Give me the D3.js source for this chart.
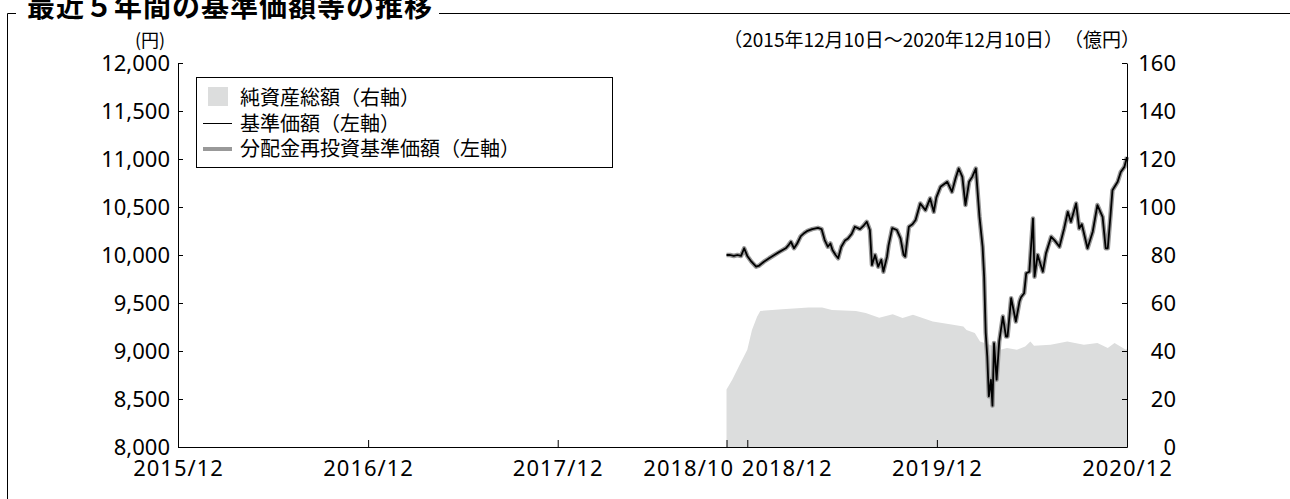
<!DOCTYPE html>
<html>
<head>
<meta charset="utf-8">
<script src="https://cdn.jsdelivr.net/npm/d3@7"></script>
<style>
  body { margin: 0; background: #fff; }
  svg { display: block; font-family: "Noto Sans CJK JP", "Noto Sans", sans-serif; }
</style>
</head>
<body>
<svg id="chart" width="1290" height="499"></svg>
<script>
const startDate = "2015-12-10", endDate = "2020-12-10";
const xTickDates = ["2015-12-10", "2016-12-10", "2017-12-10", "2018-10-31", "2018-12-10", "2019-12-10", "2020-12-10"];
const xTickLabels = ["2015/12", "2016/12", "2017/12", "2018/10", "2018/12", "2019/12", "2020/12"];
const leftTicks = [8000, 8500, 9000, 9500, 10000, 10500, 11000, 11500, 12000];
const rightTicks = [0, 20, 40, 60, 80, 100, 120, 140, 160];

// 基準価額 (円)
const priceDates = [
  "2018-10-31", "2018-11-07", "2018-11-14", "2018-11-21", "2018-11-28", "2018-12-04", "2018-12-10", "2018-12-18",
  "2018-12-27", "2019-01-02", "2019-01-11", "2019-01-21", "2019-01-31", "2019-02-09", "2019-02-22", "2019-02-27",
  "2019-03-04", "2019-03-10", "2019-03-16", "2019-03-23", "2019-03-30", "2019-04-05", "2019-04-14", "2019-04-25",
  "2019-05-02", "2019-05-08", "2019-05-14", "2019-05-19", "2019-05-23", "2019-05-29", "2019-06-03", "2019-06-09",
  "2019-06-16", "2019-06-22", "2019-06-29", "2019-07-05", "2019-07-15", "2019-07-21", "2019-07-28", "2019-08-03",
  "2019-08-07", "2019-08-13", "2019-08-19", "2019-08-25", "2019-08-29", "2019-09-05", "2019-09-08", "2019-09-15",
  "2019-09-24", "2019-10-01", "2019-10-07", "2019-10-10", "2019-10-17", "2019-10-24", "2019-10-30", "2019-11-08",
  "2019-11-18", "2019-11-27", "2019-12-04", "2019-12-09", "2019-12-17", "2019-12-30", "2020-01-08", "2020-01-15",
  "2020-01-21", "2020-01-28", "2020-02-03", "2020-02-10", "2020-02-16", "2020-02-23", "2020-03-01", "2020-03-07",
  "2020-03-10", "2020-03-13", "2020-03-16", "2020-03-19", "2020-03-23", "2020-03-26", "2020-03-29", "2020-04-03",
  "2020-04-08", "2020-04-15", "2020-04-21", "2020-04-24", "2020-05-01", "2020-05-10", "2020-05-17", "2020-05-20",
  "2020-05-26", "2020-05-30", "2020-06-05", "2020-06-12", "2020-06-15", "2020-06-21", "2020-07-01", "2020-07-07",
  "2020-07-17", "2020-07-24", "2020-08-02", "2020-08-11", "2020-08-18", "2020-08-24", "2020-09-03", "2020-09-09",
  "2020-09-14", "2020-09-25", "2020-10-05", "2020-10-14", "2020-10-24", "2020-10-30", "2020-11-03", "2020-11-08",
  "2020-11-12", "2020-11-22", "2020-11-28", "2020-12-05", "2020-12-10"
];
const priceValues = [
  10000, 10000, 9990, 10000, 9990, 10070, 9990, 9930,
  9878, 9890, 9930, 9966, 10000, 10030, 10070, 10100,
  10138, 10070, 10120, 10197, 10230, 10252, 10270, 10283,
  10270, 10156, 10086, 10120, 10052, 10000, 9966, 10086,
  10150, 10173, 10220, 10294, 10270, 10300, 10346, 10260,
  9896, 10000, 9878, 9950, 9826, 9983, 10100, 10280,
  10260, 10173, 10000, 9983, 10294, 10320, 10364, 10537,
  10467, 10589, 10450, 10600, 10710, 10762, 10658, 10800,
  10901, 10814, 10520, 10762, 10814, 10901, 10398, 10086,
  9774, 9187, 8943, 8528, 8700, 8431, 9083, 8701,
  9100, 9359, 9151, 9151, 9550, 9307, 9515, 9560,
  9602, 9810, 9826, 10381, 9774, 10000, 9826, 10017,
  10190, 10150, 10086, 10277, 10450, 10346, 10537, 10277,
  10320, 10070, 10242, 10520, 10398, 10070, 10070, 10398,
  10675, 10762, 10865, 10918, 11021
];
// 分配金再投資基準価額: no distributions were paid, so it equals the base price
const reinvestValues = priceValues;

// 純資産総額 (億円)
const assetDates = [
  "2018-10-31", "2018-11-11", "2018-11-27", "2018-12-10", "2018-12-19", "2018-12-29", "2019-01-04", "2019-02-15",
  "2019-04-07", "2019-05-03", "2019-05-22", "2019-07-07", "2019-07-26", "2019-08-21", "2019-09-16", "2019-10-05",
  "2019-10-25", "2019-12-02", "2020-01-10", "2020-01-30", "2020-02-05", "2020-02-21", "2020-03-02", "2020-03-21",
  "2020-04-10", "2020-04-23", "2020-05-12", "2020-05-28", "2020-06-07", "2020-06-14", "2020-07-16", "2020-08-17",
  "2020-09-18", "2020-10-14", "2020-11-03", "2020-11-16", "2020-12-08", "2020-12-10"
];
const assetValues = [
  24, 28, 35, 40.5, 48.8, 54.4, 56.7, 57.4,
  58.1, 58.1, 57.1, 56.7, 55.8, 53.9, 55.3, 53.7,
  55.1, 52.3, 50.9, 50.2, 48.8, 47.5, 44, 42.6,
  40.5, 41.2, 40.5, 41.9, 44, 42.2, 42.6, 44,
  42.6, 43.3, 41.2, 43.3, 40.5, 41
];

const parse = d3.timeParse("%Y-%m-%d");
const priceData = priceDates.map((d, i) => ({ date: parse(d), value: priceValues[i], reinvest: reinvestValues[i] }));
const assetData = assetDates.map((d, i) => ({ date: parse(d), value: assetValues[i] }));

const margin = { top: 63, left: 178 },
    width = 949,
    height = 384;

const root = d3.select("#chart");

// title frame
const title = root.append("text")
    .attr("x", 27)
    .attr("y", 17)
    .style("font-size", "28px")
    .style("font-weight", "bold")
    .style("letter-spacing", "1px")
    .text("最近５年間の基準価額等の推移");
const tw = title.node().getBBox();
root.append("path")
    .attr("d", `M7.5,499V13.5H16 M${tw.x + tw.width + 6},13.5H1290`)
    .attr("fill", "none")
    .attr("stroke", "#000")
    .attr("stroke-width", 1);

const svg = root.append("g")
    .attr("transform", `translate(${margin.left}, ${margin.top})`);

const x = d3.scaleTime()
    .domain([parse(startDate), parse(endDate)])
    .range([0, width]);
const yLeft = d3.scaleLinear().domain([8000, 12000]).range([height, 0]);
const yRight = d3.scaleLinear().domain([0, 160]).range([height, 0]);

// net assets area
svg.append("path")
    .datum(assetData)
    .attr("fill", "#dcdddd")
    .attr("d", d3.area()
        .x(d => x(d.date))
        .y0(yRight(0))
        .y1(d => yRight(d.value)));

// reinvested NAV (gray, under) and NAV (black)
svg.append("path")
    .datum(priceData)
    .attr("fill", "none")
    .attr("stroke", "#999")
    .attr("stroke-width", 4.5)
    .attr("stroke-linejoin", "round")
    .attr("d", d3.line().x(d => x(d.date)).y(d => yLeft(d.reinvest)));
svg.append("path")
    .datum(priceData)
    .attr("fill", "none")
    .attr("stroke", "#000")
    .attr("stroke-width", 1.8)
    .attr("stroke-linejoin", "round")
    .attr("d", d3.line().x(d => x(d.date)).y(d => yLeft(d.value)));

// axes
const leftAxis = svg.append("g")
    .call(d3.axisLeft(yLeft).tickValues(leftTicks).tickFormat(d3.format(","))
        .tickSize(-5).tickSizeOuter(0).tickPadding(8));
const rightAxis = svg.append("g")
    .attr("transform", `translate(${width}, 0)`)
    .call(d3.axisRight(yRight).tickValues(rightTicks)
        .tickSize(-5).tickSizeOuter(0).tickPadding(49));
rightAxis.selectAll("text").attr("text-anchor", "end");

const xAxis = svg.append("g")
    .attr("transform", `translate(0, ${height})`)
    .call(d3.axisBottom(x).tickValues(xTickDates.map(parse))
        .tickFormat((d, i) => xTickLabels[i])
        .tickSize(-7).tickSizeOuter(0).tickPadding(13));
xAxis.selectAll("text")
    .style("letter-spacing", "1px")
    .attr("text-anchor", (d, i) => xTickLabels[i] === "2018/10" ? "end" : xTickLabels[i] === "2018/12" ? "start" : "middle")
    .attr("dx", (d, i) => xTickLabels[i] === "2018/10" ? 7 : xTickLabels[i] === "2018/12" ? -6 : 0);

[leftAxis, rightAxis, xAxis].forEach(a => {
    a.selectAll("text").style("font-size", "22px").attr("fill", "#000").style("font-family", "'Noto Sans', 'Noto Sans CJK JP', sans-serif");
    a.selectAll("line, path").attr("stroke", "#000");
});

// unit labels
root.append("text").attr("x", 150).attr("y", 47).attr("text-anchor", "middle")
    .style("font-size", "18px").text("(円)");
root.append("text").attr("x", 1063).attr("y", 47).attr("text-anchor", "end")
    .style("font-size", "19px").text("（2015年12月10日～2020年12月10日）");
root.append("text").attr("x", 1140).attr("y", 47).attr("text-anchor", "end")
    .style("font-size", "19px").text("（億円）");

// legend
const legend = root.append("g");
legend.append("rect")
    .attr("x", 196.5).attr("y", 77.5).attr("width", 416).attr("height", 90)
    .attr("fill", "#fff").attr("stroke", "#000");
legend.append("rect")
    .attr("x", 208).attr("y", 87).attr("width", 20).attr("height", 19)
    .attr("fill", "#dcdddd");
legend.append("line")
    .attr("x1", 203).attr("x2", 232).attr("y1", 123.5).attr("y2", 123.5)
    .attr("stroke", "#000").attr("stroke-width", 1);
legend.append("line")
    .attr("x1", 203).attr("x2", 232).attr("y1", 149).attr("y2", 149)
    .attr("stroke", "#999").attr("stroke-width", 4);
const legendLabels = ["純資産総額（右軸）", "基準価額（左軸）", "分配金再投資基準価額（左軸）"];
legendLabels.forEach((t, i) => {
    legend.append("text")
        .attr("x", 240)
        .attr("y", 105 + i * 25.5)
        .style("font-size", "20px")
        .text(t);
});
</script>
</body>
</html>
